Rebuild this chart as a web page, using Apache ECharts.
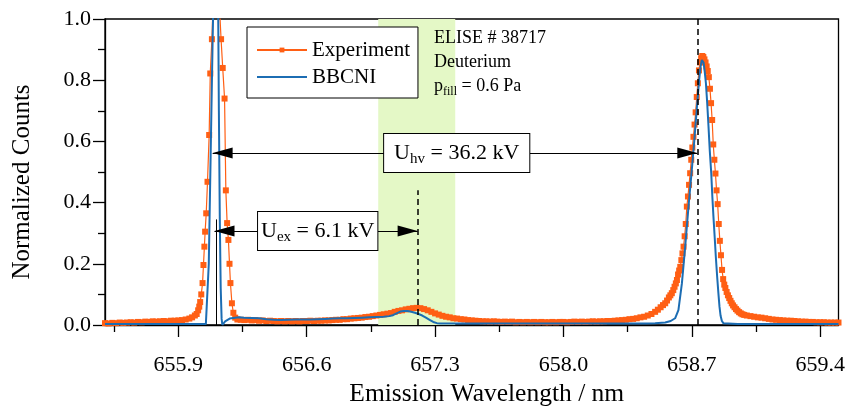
<!DOCTYPE html>
<html>
<head>
<meta charset="utf-8">
<title>Balmer alpha spectrum with Doppler shifted components</title>
<script src="https://cdn.jsdelivr.net/npm/echarts@6/dist/echarts.min.js"></script>
<style>
  html, body { margin: 0; padding: 0; background: #fff; }
  #chart { width: 852px; height: 414px; }
</style>
</head>
<body>
<div id="chart"></div>
<script>
// measured spectrum (orange squares)
const expWl = [
  655.50, 655.52, 655.54, 655.56, 655.58, 655.60, 655.62, 655.64, 655.66, 655.68,
  655.70, 655.72, 655.74, 655.76, 655.78, 655.80, 655.82, 655.84, 655.86, 655.88,
  655.90, 655.92, 655.94, 655.96, 655.975, 655.99, 656.000, 656.008, 656.014, 656.019,
  656.025, 656.032, 656.037, 656.042, 656.046, 656.052, 656.059, 656.068, 656.074, 656.083,
  656.090, 656.097, 656.104, 656.111, 656.118, 656.125, 656.133, 656.142, 656.152, 656.159,
  656.166, 656.173, 656.179, 656.184, 656.192, 656.200, 656.210, 656.222,
  656.24, 656.26, 656.28, 656.30, 656.32, 656.34, 656.36, 656.38, 656.40, 656.42,
  656.44, 656.46, 656.48, 656.50, 656.52, 656.54, 656.56, 656.58, 656.60, 656.62,
  656.64, 656.66, 656.68, 656.70, 656.72, 656.74, 656.76, 656.78, 656.80, 656.82,
  656.84, 656.86, 656.88, 656.90, 656.92, 656.94, 656.96, 656.98, 657.00, 657.02,
  657.04, 657.06, 657.08, 657.10, 657.12, 657.14, 657.16, 657.18, 657.20, 657.22,
  657.24, 657.26, 657.28, 657.30, 657.32, 657.34, 657.36, 657.38, 657.40, 657.42,
  657.44, 657.46, 657.48, 657.50, 657.52, 657.54, 657.56, 657.58, 657.60, 657.62,
  657.64, 657.66, 657.68, 657.70, 657.72, 657.74, 657.76, 657.78, 657.80, 657.82,
  657.84, 657.86, 657.88, 657.90, 657.92, 657.94, 657.96, 657.98, 658.00, 658.02,
  658.04, 658.06, 658.08, 658.10, 658.12, 658.14, 658.16, 658.18, 658.20, 658.22,
  658.24, 658.26, 658.28, 658.30, 658.32, 658.34, 658.36, 658.38, 658.40, 658.42,
  658.44, 658.46, 658.48, 658.50,
  658.515, 658.530, 658.543, 658.555, 658.565, 658.575, 658.583, 658.591, 658.599, 658.606,
  658.613, 658.619, 658.625, 658.631, 658.637, 658.643, 658.649, 658.655, 658.661, 658.667,
  658.673, 658.679, 658.685, 658.691, 658.697, 658.703, 658.709, 658.715, 658.721, 658.727,
  658.733, 658.739, 658.745, 658.751, 658.757, 658.763, 658.769, 658.775, 658.781, 658.787,
  658.793, 658.799, 658.805, 658.811, 658.817, 658.823, 658.829, 658.835, 658.841, 658.847,
  658.853, 658.859, 658.865, 658.871, 658.877, 658.883, 658.890, 658.897, 658.904, 658.911,
  658.918, 658.925, 658.933, 658.941, 658.949, 658.958, 658.967, 658.976, 658.986, 659.00,
  659.02, 659.04, 659.06, 659.08, 659.10, 659.12, 659.14, 659.16, 659.18, 659.20,
  659.22, 659.24, 659.26, 659.28, 659.30, 659.32, 659.34, 659.36, 659.38, 659.40,
  659.42, 659.44, 659.46, 659.48, 659.50
];
const expCounts = [
  0.006, 0.005, 0.007, 0.006, 0.008, 0.007, 0.008, 0.009, 0.008, 0.010,
  0.009, 0.011, 0.010, 0.012, 0.011, 0.012, 0.013, 0.012, 0.014, 0.014,
  0.015, 0.016, 0.018, 0.021, 0.025, 0.031, 0.036, 0.048, 0.060, 0.075,
  0.100, 0.137, 0.196, 0.256, 0.305, 0.365, 0.468, 0.621, 0.822, 0.934,
  1.06, 1.14, 1.18, 1.16, 1.10, 1.03, 0.934, 0.840, 0.740, 0.440,
  0.333, 0.278, 0.200, 0.137, 0.071, 0.040, 0.024, 0.018,
  0.017, 0.016, 0.017, 0.015, 0.016, 0.014, 0.015, 0.013, 0.014, 0.013,
  0.012, 0.013, 0.012, 0.013, 0.012, 0.013, 0.012, 0.013, 0.013, 0.014,
  0.013, 0.014, 0.014, 0.015, 0.015, 0.016, 0.017, 0.017, 0.019, 0.019,
  0.021, 0.022, 0.023, 0.024, 0.026, 0.027, 0.029, 0.031, 0.033, 0.035,
  0.037, 0.039, 0.043, 0.046, 0.048, 0.051, 0.053, 0.055, 0.056, 0.055,
  0.052, 0.048, 0.043, 0.038, 0.034, 0.030, 0.027, 0.025, 0.022, 0.021,
  0.019, 0.018, 0.016, 0.015, 0.014, 0.013, 0.012, 0.012, 0.011, 0.012,
  0.011, 0.010, 0.011, 0.010, 0.011, 0.009, 0.010, 0.009, 0.010, 0.009,
  0.010, 0.009, 0.010, 0.009, 0.009, 0.010, 0.009, 0.010, 0.010, 0.009,
  0.010, 0.011, 0.010, 0.011, 0.010, 0.011, 0.012, 0.011, 0.012, 0.012,
  0.013, 0.013, 0.014, 0.015, 0.016, 0.017, 0.019, 0.020, 0.022, 0.025,
  0.027, 0.031, 0.036, 0.043,
  0.050, 0.058, 0.065, 0.071, 0.080, 0.090, 0.097, 0.104, 0.114, 0.125,
  0.136, 0.147, 0.165, 0.178, 0.190, 0.212, 0.234, 0.256, 0.290, 0.330,
  0.387, 0.420, 0.458, 0.496, 0.540, 0.580, 0.615, 0.655, 0.695, 0.745,
  0.790, 0.832, 0.858, 0.872, 0.879, 0.876, 0.868, 0.858, 0.845, 0.830,
  0.810, 0.772, 0.725, 0.670, 0.590, 0.540, 0.495, 0.440, 0.395, 0.330,
  0.275, 0.228, 0.180, 0.150, 0.132, 0.121, 0.108, 0.097, 0.088, 0.079,
  0.071, 0.064, 0.058, 0.052, 0.047, 0.042, 0.038, 0.035, 0.033, 0.031,
  0.029, 0.027, 0.025, 0.024, 0.022, 0.020, 0.018, 0.017, 0.016, 0.015,
  0.014, 0.014, 0.013, 0.012, 0.011, 0.011, 0.010, 0.010, 0.009, 0.009,
  0.009, 0.008, 0.008, 0.008, 0.008
];

// BBCNI simulation (blue line)
const simWl = [
  655.50, 655.80, 656.00, 656.05, 656.058, 656.066, 656.076, 656.086, 656.094, 656.100,
  656.106, 656.112, 656.117, 656.121, 656.126, 656.131, 656.136, 656.140, 656.146, 656.155,
  656.165, 656.18, 656.20, 656.23, 656.26, 656.30, 656.34, 656.38, 656.42, 656.46,
  656.50, 656.54, 656.58, 656.62, 656.66, 656.70, 656.74, 656.78, 656.82, 656.86,
  656.90, 656.94, 656.98, 657.02, 657.05, 657.07, 657.09, 657.11, 657.13, 657.15,
  657.17, 657.19, 657.21, 657.23, 657.25, 657.27, 657.29, 657.31, 657.33, 657.40,
  657.60, 657.80, 658.00, 658.20, 658.40, 658.45, 658.50, 658.555, 658.585, 658.609,
  658.627, 658.646, 658.664, 658.682, 658.700, 658.714, 658.728, 658.740, 658.748, 658.755,
  658.760, 658.764, 658.770, 658.777, 658.784, 658.791, 658.798, 658.806, 658.812, 658.818,
  658.825, 658.831, 658.838, 658.845, 658.851, 658.857, 658.864, 658.872, 658.882, 658.95,
  659.10, 659.30, 659.50
];
const simCounts = [
  0.003, 0.003, 0.003, 0.003, 0.004, 0.20, 0.55, 0.90, 1.15, 1.35,
  1.40, 1.30, 1.05, 0.70, 0.35, 0.12, 0.020, 0.000, 0.004, 0.012,
  0.018, 0.021, 0.023, 0.025, 0.024, 0.023, 0.022, 0.019, 0.017, 0.016,
  0.017, 0.018, 0.018, 0.018, 0.019, 0.020, 0.021, 0.022, 0.022, 0.023,
  0.024, 0.025, 0.026, 0.027, 0.029, 0.032, 0.038, 0.044, 0.046, 0.046,
  0.043, 0.040, 0.036, 0.031, 0.024, 0.017, 0.010, 0.006, 0.005, 0.005,
  0.005, 0.005, 0.005, 0.005, 0.005, 0.005, 0.006, 0.008, 0.013, 0.022,
  0.049, 0.136, 0.256, 0.387, 0.507, 0.605, 0.713, 0.800, 0.845, 0.866,
  0.866, 0.858, 0.830, 0.790, 0.725, 0.650, 0.570, 0.496, 0.420, 0.354,
  0.285, 0.223, 0.160, 0.104, 0.060, 0.030, 0.013, 0.006, 0.004, 0.003,
  0.003, 0.003, 0.003
];

const xTicks = [655.9, 656.6, 657.3, 658.0, 658.7, 659.4];
const xMinorTicks = [655.55, 656.25, 656.95, 657.65, 658.35, 659.05];

// annotation positions, in data units
const lineUnshifted = 656.105;   // thin solid marker
const lineExShift = 657.205;     // U_ex component (dashed)
const lineHvShift = 658.73;      // U_hv component (dashed)
const bandRange = [656.99, 657.41];
const hvArrowStart = 656.087;
const exArrowStart = 656.097;
const hvLevel = 0.562;
const exLevel = 0.307;
const hvBoxWl = 657.418;
const exBoxWl = 656.66;

const ORANGE = '#ff5f14';
const BLUE = '#1c6db3';
const FONT = 'Liberation Serif';

const chart = echarts.init(document.getElementById('chart'));

const boxRich = {
  m: { fontFamily: FONT, fontSize: 22, color: '#000', lineHeight: 28 },
  s: { fontFamily: FONT, fontSize: 15, color: '#000', lineHeight: 14, verticalAlign: 'bottom' }
};

// arrow end: head drawn with its tip on the given point
function tip(coord) {
  return { coord: coord, symbol: 'triangle', symbolOffset: [0, 10] };
}

const option = {
  animation: false,
  backgroundColor: '#fff',
  textStyle: { fontFamily: FONT },
  grid: {
    left: 105, right: 13.5, top: 19, bottom: 89,
    show: true, borderColor: '#000', borderWidth: 1.3
  },
  title: {
    left: 434, top: 26, padding: 0,
    text: '{a|ELISE # 38717}\n{a|Deuterium}\n{a|p}{s|fill}{a| = 0.6 Pa}',
    textStyle: {
      fontWeight: 'normal',
      rich: {
        a: { fontFamily: FONT, fontSize: 18, fontWeight: 'normal', color: '#000', lineHeight: 24 },
        s: { fontFamily: FONT, fontSize: 12, fontWeight: 'normal', color: '#000', lineHeight: 11, verticalAlign: 'bottom' }
      }
    }
  },
  legend: {
    left: 247, top: 27, orient: 'vertical',
    backgroundColor: '#fff', borderColor: '#000', borderWidth: 1,
    padding: [11, 8, 9, 9],
    itemWidth: 50, itemHeight: 6, itemGap: 3,
    textStyle: { fontFamily: FONT, fontSize: 21, color: '#000', lineHeight: 24 },
    data: [{ name: 'Experiment' }, { name: 'BBCNI', itemStyle: { opacity: 0 } }]
  },
  xAxis: [
    {
      type: 'value', min: 655.5, max: 659.5,
      name: 'Emission Wavelength / nm', nameLocation: 'middle', nameGap: 56,
      nameTextStyle: { fontFamily: FONT, fontSize: 25.5, color: '#000', padding: [0, 0, 0, 30] },
      axisLine: { lineStyle: { color: '#000', width: 1.3 } },
      axisTick: { customValues: xTicks, length: 12, lineStyle: { color: '#000', width: 1.3 } },
      axisLabel: {
        customValues: xTicks, margin: 29,
        fontFamily: FONT, fontSize: 22, color: '#000',
        formatter: v => v.toFixed(1)
      },
      splitLine: { show: false }
    },
    {
      type: 'value', min: 655.5, max: 659.5, position: 'bottom',
      axisLine: { show: false },
      axisTick: { customValues: xMinorTicks, length: 7, lineStyle: { color: '#000', width: 1.3 } },
      axisLabel: { show: false },
      splitLine: { show: false }
    }
  ],
  yAxis: {
    type: 'value', min: 0, max: 1, interval: 0.2,
    name: 'Normalized Counts', nameLocation: 'middle', nameGap: 70,
    nameTextStyle: { fontFamily: FONT, fontSize: 25, color: '#000', padding: [0, 20, 0, 0] },
    axisLine: { show: true, lineStyle: { color: '#000', width: 1.3 } },
    axisTick: { length: 12, lineStyle: { color: '#000', width: 1.3 } },
    minorTick: { show: true, splitNumber: 2, length: 7, lineStyle: { color: '#000', width: 1.3 } },
    axisLabel: {
      margin: 14, fontFamily: FONT, fontSize: 22, color: '#000',
      formatter: v => v.toFixed(1)
    },
    splitLine: { show: false }
  },
  series: [
    {
      name: 'band', type: 'line', data: [], z: 1, silent: true,
      markArea: {
        silent: true,
        itemStyle: { color: '#e4f8c6' },
        data: [[{ xAxis: bandRange[0] }, { xAxis: bandRange[1] }]]
      }
    },
    {
      name: 'Experiment', type: 'line', z: 3,
      data: expWl.map((w, i) => [w, expCounts[i]]),
      symbol: 'rect', symbolSize: 6, showSymbol: true,
      itemStyle: { color: ORANGE },
      lineStyle: { color: ORANGE, width: 1.2 }
    },
    {
      name: 'BBCNI', type: 'line', z: 4,
      data: simWl.map((w, i) => [w, simCounts[i]]),
      symbol: 'none',
      itemStyle: { color: BLUE },
      lineStyle: { color: BLUE, width: 2 }
    },
    {
      name: 'marks', type: 'line', data: [], z: 5, silent: true,
      markLine: {
        silent: true, animation: false,
        symbol: ['none', 'none'],
        symbolSize: [11, 20],
        label: { show: false },
        lineStyle: { color: '#000', width: 1, type: 'solid' },
        data: [
          [{ coord: [lineUnshifted, 0] }, { coord: [lineUnshifted, 0.345] }],
          [{ coord: [lineExShift, 0], lineStyle: { type: [6, 4], width: 1.5 } }, { coord: [lineExShift, 0.44] }],
          [{ coord: [lineHvShift, 0], lineStyle: { type: [6, 4], width: 1.5 } }, { coord: [lineHvShift, 1] }],
          [tip([hvArrowStart, hvLevel]), tip([lineHvShift, hvLevel])],
          [tip([exArrowStart, exLevel]), tip([lineExShift, exLevel])]
        ]
      }
    },
    {
      name: 'boxes', type: 'line', data: [], z: 6, silent: true,
      markPoint: {
        silent: true, symbol: 'circle', symbolSize: 1,
        itemStyle: { color: 'rgba(0,0,0,0)' },
        label: {
          show: true, position: 'inside',
          backgroundColor: '#fff', borderColor: '#000', borderWidth: 1,
          padding: [5, 10, 5, 10], rich: boxRich
        },
        data: [
          { coord: [hvBoxWl, hvLevel], label: { formatter: '{m|U}{s|hv}{m| = 36.2 kV}' } },
          { coord: [exBoxWl, exLevel], label: { formatter: '{m|U}{s|ex}{m| = 6.1 kV}', padding: [5, 3, 5, 3] } }
        ]
      }
    }
  ]
};

chart.setOption(option);
</script>
</body>
</html>
